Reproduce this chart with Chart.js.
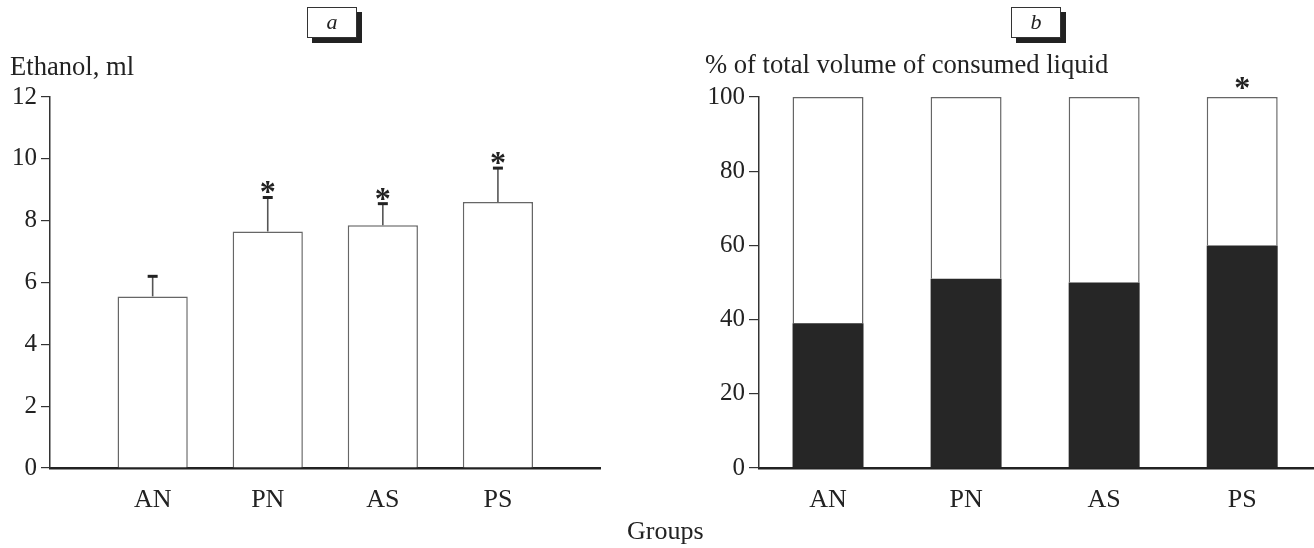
<!DOCTYPE html>
<html><head><meta charset="utf-8">
<script src="https://cdn.jsdelivr.net/npm/chart.js@4.4.0/dist/chart.umd.min.js"></script>
<style>
html,body{margin:0;padding:0;background:#fff;}
body{width:1314px;height:548px;position:relative;overflow:hidden;font-family:"Liberation Serif","Times New Roman",serif;color:#222;}
.box{position:absolute;}
.lbl{position:absolute;white-space:nowrap;font-size:26.6px;line-height:26px;}
.panel{position:absolute;width:48px;height:29px;border:1px solid #333;box-shadow:5px 5px 0 #222;background:#fff;font-style:italic;font-size:22px;line-height:27px;text-align:center;}
</style></head><body>
<div class="box" style="left:0;top:0;width:610px;height:548px"><canvas id="ca"></canvas></div>
<div class="box" style="left:660px;top:0;width:654px;height:548px"><canvas id="cb"></canvas></div>
<div class="panel" style="left:307px;top:7px">a</div>
<div class="panel" style="left:1011px;top:7px">b</div>
<div class="lbl" style="left:10px;top:53px">Ethanol, ml</div>
<div class="lbl" style="left:705px;top:51px">% of total volume of consumed liquid</div>
<div class="lbl" style="left:627px;top:518px;font-size:26px;line-height:26px">Groups</div>
<script>
// ---- data ----
const categories = ['AN', 'PN', 'AS', 'PS'];
const ethanolMl = [5.55, 7.65, 7.85, 8.6];
const ethanolSem = [0.65, 1.1, 0.7, 1.1];
const ethanolSig = ['', '*', '*', '*'];
const ethanolTicks = [0, 2, 4, 6, 8, 10, 12];
const ethanolSharePct = [39, 51, 50, 60];
const waterSharePct = [61, 49, 50, 40];
const shareSig = ['', '', '', '*'];
const shareTicks = [0, 20, 40, 60, 80, 100];

Chart.defaults.font.family = '"Liberation Serif", "Times New Roman", serif';
Chart.defaults.color = '#222';

const toPoints = vals => vals.map((v, i) => ({ x: i + 1, y: v }));

const marksPlugin = {
  id: 'marks',
  afterDatasetsDraw(chart, args, opts) {
    const ctx = chart.ctx;
    const ys = chart.scales.y;
    const meta = chart.getDatasetMeta(opts.dataset);
    ctx.save();
    meta.data.forEach((bar, i) => {
      let top = bar.y;
      if (opts.values && opts.err) {
        const yp = ys.getPixelForValue(opts.values[i] + opts.err[i]);
        ctx.strokeStyle = '#555';
        ctx.lineWidth = 1.6;
        ctx.beginPath();
        ctx.moveTo(bar.x, bar.y);
        ctx.lineTo(bar.x, yp);
        ctx.stroke();
        ctx.strokeStyle = '#222';
        ctx.lineWidth = 3;
        ctx.beginPath();
        ctx.moveTo(bar.x - 5, yp);
        ctx.lineTo(bar.x + 5, yp);
        ctx.stroke();
        top = yp;
      }
      if (opts.sig[i]) {
        ctx.fillStyle = '#222';
        ctx.font = 'bold 32px "Liberation Serif", serif';
        ctx.textAlign = 'center';
        ctx.textBaseline = 'alphabetic';
        ctx.fillText(opts.sig[i], bar.x, top + opts.sigOffset);
      }
    });
    ctx.restore();
  }
};

function xAxis(min, max, stacked) {
  return {
    type: 'linear', min: min, max: max, stacked: stacked, offset: false,
    grid: { display: false, offset: false },
    border: { display: true, color: '#222', width: 2.5 },
    ticks: {
      font: { size: 26 }, color: '#222', padding: 9,
      callback: v => categories[Math.round(v) - 1] || ''
    },
    afterBuildTicks: s => { s.ticks = categories.map((c, i) => ({ value: i + 1 })); },
    afterFit: s => { s.height = 80; }
  };
}
function yAxis(tickVals, width, tickLen, stacked) {
  return {
    min: tickVals[0], max: tickVals[tickVals.length - 1], stacked: stacked,
    grid: { display: true, drawOnChartArea: false, drawTicks: true, tickLength: tickLen, color: '#333', lineWidth: 1.2 },
    border: { display: true, color: '#333', width: 1.5 },
    ticks: { font: { size: 25 }, color: '#222', padding: 4 },
    afterBuildTicks: s => { s.ticks = tickVals.map(v => ({ value: v })); },
    afterFit: s => { s.width = width; }
  };
}

new Chart(document.getElementById('ca'), {
  type: 'bar',
  data: {
    datasets: [{
      label: 'Ethanol, ml',
      data: toPoints(ethanolMl),
      backgroundColor: '#fff', borderColor: '#666', borderWidth: 1.5,
      categoryPercentage: 1, barPercentage: 0.61
    }]
  },
  options: {
    responsive: true, maintainAspectRatio: false, animation: false,
    layout: { padding: { top: 97, right: 10, bottom: 0, left: 0 } },
    plugins: {
      legend: { display: false }, tooltip: { enabled: false },
      marks: { dataset: 0, values: ethanolMl, err: ethanolSem, sig: ethanolSig, sigOffset: 5 }
    },
    scales: { x: xAxis(0.108, 4.887, false), y: yAxis(ethanolTicks, 50, 9, false) }
  },
  plugins: [marksPlugin]
});

new Chart(document.getElementById('cb'), {
  type: 'bar',
  data: {
    datasets: [{
      label: 'Ethanol',
      data: toPoints(ethanolSharePct),
      backgroundColor: '#262626', borderColor: '#262626', borderWidth: 0,
      categoryPercentage: 1, barPercentage: 0.514
    }, {
      label: 'Water',
      data: toPoints(waterSharePct),
      backgroundColor: '#fff', borderColor: '#666', borderWidth: 1.5,
      categoryPercentage: 1, barPercentage: 0.514
    }]
  },
  options: {
    responsive: true, maintainAspectRatio: false, animation: false,
    layout: { padding: { top: 97, right: 0, bottom: 0, left: 0 } },
    plugins: {
      legend: { display: false }, tooltip: { enabled: false },
      marks: { dataset: 1, sig: shareSig, sigOffset: 1 }
    },
    scales: { x: xAxis(0.5, 4.52, true), y: yAxis(shareTicks, 99, 10, true) }
  },
  plugins: [marksPlugin]
});
</script>
</body></html>
